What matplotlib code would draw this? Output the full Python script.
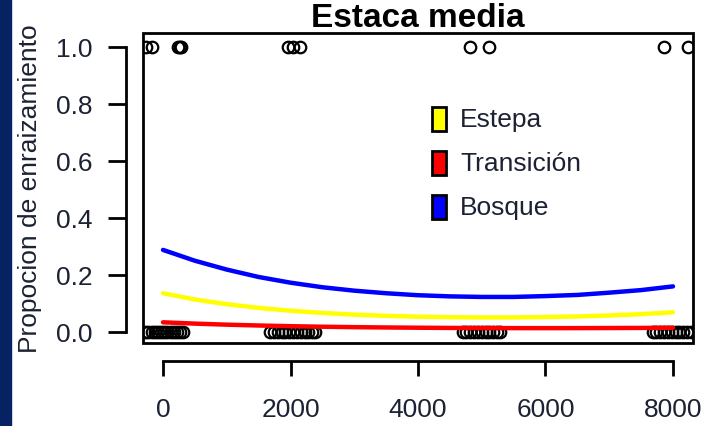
import matplotlib
matplotlib.use('Agg')
import matplotlib.pyplot as plt
from matplotlib.patches import Rectangle

plt.rcParams['font.family'] = ['Liberation Sans', 'DejaVu Sans']

# distance (m) and fitted proportion per habitat
dist = [0, 500, 1000, 1500, 2000, 2500, 3000, 3500, 4000,
        4500, 5000, 5500, 6000, 6500, 7000, 7500, 8000]
bosque = [0.288, 0.250, 0.219, 0.193, 0.173, 0.157, 0.145, 0.136, 0.129,
          0.125, 0.123, 0.123, 0.126, 0.130, 0.138, 0.147, 0.160]
estepa = [0.136, 0.114, 0.0975, 0.0845, 0.0745, 0.0668, 0.0609, 0.0567, 0.0537,
          0.0519, 0.0510, 0.0511, 0.0524, 0.0545, 0.0579, 0.0626, 0.0690]
transicion = [0.0340, 0.0294, 0.0257, 0.0228, 0.0204, 0.0185, 0.0170, 0.0159, 0.0150,
              0.0143, 0.0139, 0.0136, 0.0135, 0.0136, 0.0139, 0.0143, 0.0150]

# observed cuttings: rooted (1) and not rooted (0)
x_rooted = [-267, -173, 230, 260, 275, 1961, 2040, 2150, 4812, 5115, 7856, 8237]
x_dead = [-290, -240, -180, -130, -80, -30, 20, 70, 120, 170, 220, 270, 310,
          1680, 1740, 1800, 1860, 1920, 1980, 2040, 2100, 2160, 2220, 2280, 2340, 2385,
          4710, 4760, 4820, 4880, 4940, 5000, 5060, 5120, 5180, 5240, 5290,
          7680, 7740, 7800, 7860, 7920, 7980, 8040, 8100, 8160, 8220, 8280]

leg_labels = ['Estepa', 'Transición', 'Bosque']
leg_colors = ['#ffff00', '#ff0000', '#0000ff']

txt = '#1c2233'

fig = plt.figure(figsize=(7.12, 4.27), dpi=100)
fig.patches.append(Rectangle((0, 0), 11 / 712, 1, transform=fig.transFigure,
                             color='#062262', zorder=0))
ax = fig.add_axes([143 / 712, 1 - 344 / 427, 550 / 712, 310 / 427])

ax.plot(x_rooted, [1] * len(x_rooted), 'o', mfc='none', mec='black', ms=8.3, mew=1.6)
ax.plot(x_dead, [0] * len(x_dead), 'o', mfc='none', mec='black', ms=8.3, mew=1.6)
ax.plot(dist, bosque, color='#0000ff', lw=3.2, solid_capstyle='round')
ax.plot(dist, estepa, color='#ffff00', lw=3.2, solid_capstyle='round')
ax.plot(dist, transicion, color='#ff0000', lw=3.2, solid_capstyle='round')

ax.set_xlim(-314, 8314)
ax.set_ylim(-0.0386, 1.049)

# R style: full box plus detached axes
ax.add_patch(Rectangle((0, 0), 1, 1, transform=ax.transAxes, fill=False,
                       lw=2, ec='black', clip_on=False, zorder=5))
for s in ['top', 'right']:
    ax.spines[s].set_visible(False)
ax.spines['left'].set_position(('outward', 12.5))
ax.spines['bottom'].set_position(('outward', 13))
ax.spines['left'].set_bounds(0, 1)
ax.spines['bottom'].set_bounds(0, 8000)
ax.spines['left'].set_linewidth(2)
ax.spines['bottom'].set_linewidth(2)

ax.set_xticks([0, 2000, 4000, 6000, 8000])
ax.set_yticks([0, 0.2, 0.4, 0.6, 0.8, 1.0])
ax.set_yticklabels(['0.0', '0.2', '0.4', '0.6', '0.8', '1.0'])
ax.tick_params(axis='y', length=13, width=2, pad=11, labelsize=19, labelcolor=txt)
ax.tick_params(axis='x', length=11, width=2, pad=15, labelsize=19, labelcolor=txt)

ax.set_ylabel('Propocion de enraizamiento', fontsize=19, color=txt)
ax.yaxis.set_label_coords(-0.184, 0.5)
ax.set_title('Estaca media', fontsize=24, fontweight='bold', pad=2)

# legend drawn R-like: filled boxes with black border
for i, (lab, col) in enumerate(zip(leg_labels, leg_colors)):
    yc = 0.7226 - i * 0.1419
    ax.add_patch(Rectangle((0.5255, yc - 0.0387), 0.0255, 0.0774, transform=ax.transAxes,
                           fc=col, ec='black', lw=2, zorder=6))
    ax.text(0.5764, yc, lab, transform=ax.transAxes, fontsize=19, color=txt,
            va='center', ha='left')

fig.savefig('out.png', dpi=100)
